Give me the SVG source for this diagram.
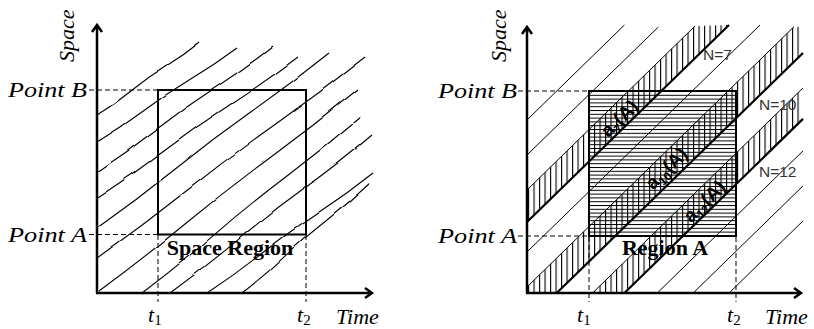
<svg xmlns="http://www.w3.org/2000/svg" width="814" height="329" viewBox="0 0 814 329">
<style>
.ax{fill:none;stroke:#000;stroke-width:2.5}
.box{fill:none;stroke:#000;stroke-width:2}
.dash{fill:none;stroke:#000;stroke-width:1;stroke-dasharray:5 3}
.wave{fill:none;stroke:#000;stroke-width:1.1}
.thin{stroke:#000;stroke-width:1}
.thick{stroke:#000;stroke-width:2.2}
.lbl{font-family:"Liberation Serif",serif;font-style:italic;font-size:22px;fill:#000}
.sub{font-family:"Liberation Serif",serif;font-size:15px;font-style:normal}
.reg{font-family:"Liberation Serif",serif;font-weight:bold;font-size:22px;fill:#000}
.n{font-family:"Liberation Sans",sans-serif;font-size:15.5px;fill:#333}
.a{font-family:"Liberation Sans",sans-serif;font-weight:bold;font-size:19px;fill:#000}
</style>
<defs>
<pattern id="vh" patternUnits="userSpaceOnUse" x="0" y="0" width="5.5" height="10"><rect x="0" y="0" width="1.1" height="10" fill="#000"/></pattern>
<pattern id="hh" patternUnits="userSpaceOnUse" x="0" y="91" width="10" height="3.8"><rect x="0" y="0" width="10" height="1" fill="#000"/></pattern>
<filter id="wob" filterUnits="userSpaceOnUse" x="0" y="0" width="814" height="329">
  <feTurbulence type="fractalNoise" baseFrequency="0.035" numOctaves="1" seed="5" result="n"/>
  <feDisplacementMap in="SourceGraphic" in2="n" scale="3" xChannelSelector="R" yChannelSelector="G"/>
</filter>
</defs>

<g id="left-panel">
  <g id="left-trajectories" filter="url(#wob)">
    <path class="wave" d="M97,115 Q115.1,104 131.3,90.7 T165.7,66.3 T200,42"/>
    <path class="wave" d="M97,142 Q121.1,127.6 143.7,110.7 T190.3,79.3 T237,48"/>
    <path class="wave" d="M97,172 Q127.1,152.4 155.3,130.3 T213.7,88.7 T272,47"/>
    <path class="wave" d="M97,198 Q131.4,175.7 164,151 T231,104 T298,57"/>
    <path class="wave" d="M97,228 Q136.6,200 174.3,169.7 T251.7,111.3 T329,53"/>
    <path class="wave" d="M97,258 Q142.6,225.7 186.3,191 T275.7,124 T365,57"/>
    <path class="wave" d="M99,291 Q142.9,258.7 185,224 T271,157 T357,90"/>
    <path class="wave" d="M142,293 Q179.2,264.9 214.7,234.3 T287.3,175.7 T360,117"/>
    <path class="wave" d="M170,293 Q204.6,267.9 237.3,240.3 T304.7,187.7 T372,135"/>
    <path class="wave" d="M207,293 Q235.6,274.2 262.3,253 T317.7,213 T373,173"/>
    <path class="wave" d="M242,293 Q264.3,275.8 284.7,256.3 T327.3,219.7 T370,183"/>
  </g>
  <g id="left-guides">
    <path class="dash" d="M89,90 H158 M89,234.5 H158 M158,235 V302 M306,235 V302"/>
  </g>
  <g id="left-region">
    <rect class="box" x="158" y="90" width="148" height="144.5"/>
    <text class="reg" x="230" y="255" text-anchor="middle">Space Region</text>
  </g>
  <g id="left-axes">
    <path class="ax" d="M97,293 V25 M92,32 L97,25 L102,32"/>
    <path class="ax" d="M96,293 H372 M365,288 L372,293 L365,298"/>
    <text class="lbl" transform="translate(74,62) rotate(-90)">Space</text>
    <text class="lbl" x="8" y="97" textLength="79" lengthAdjust="spacingAndGlyphs">Point B</text>
    <text class="lbl" x="8" y="242" textLength="79" lengthAdjust="spacingAndGlyphs">Point A</text>
    <text class="lbl" x="148" y="322">t<tspan class="sub" dy="3">1</tspan></text>
    <text class="lbl" x="297" y="322">t<tspan class="sub" dy="3">2</tspan></text>
    <text class="lbl" x="336" y="324" font-size="21">Time</text>
  </g>
</g>

<g id="right-panel">
  <g id="right-hatching">
    <rect x="589" y="91" width="147" height="145" fill="url(#hh)"/>
    <polygon points="527,190 527,222 729,25 695,26" fill="url(#vh)"/>
    <polygon points="527,287 527,293 556.7,293 803,53 803,27 794,26.7" fill="url(#vh)"/>
    <polygon points="592.6,293 624.4,293 803,118.9 803,87.9" fill="url(#vh)"/>
  </g>
  <g id="right-trajectories">
    <line class="thin" x1="527" y1="120" x2="624.4" y2="25"/>
    <line class="thin" x1="527" y1="155" x2="658.3" y2="27"/>
    <line class="thin" x1="527" y1="190" x2="695" y2="26"/>
    <line class="thick" x1="527" y1="222" x2="729" y2="25"/>
    <line class="thin" x1="527" y1="252" x2="760" y2="25"/>
    <line class="thin" x1="527" y1="287" x2="794" y2="26.7"/>
    <line class="thick" x1="556.7" y1="293" x2="803" y2="53"/>
    <line class="thin" x1="592.6" y1="293" x2="803" y2="87.9"/>
    <line class="thick" x1="624.4" y1="293" x2="803" y2="118.9"/>
    <line class="thin" x1="657.3" y1="293" x2="803" y2="150.9"/>
    <line class="thin" x1="693.2" y1="293" x2="803" y2="185.9"/>
    <line class="thin" x1="729.1" y1="293" x2="803" y2="220.9"/>
  </g>
  <g id="right-guides">
    <path class="dash" d="M518,91 H589 M518,236 H589 M589,237 V302 M736,237 V302"/>
  </g>
  <g id="right-region">
    <rect class="box" x="589" y="91" width="147" height="145"/>
    <text class="reg" x="665" y="255" text-anchor="middle">Region A</text>
  </g>
  <g id="band-labels">
    <text class="a" transform="translate(619,118) rotate(-44.3)" x="0" y="7" text-anchor="middle">a<tspan font-size="12" dy="4">7</tspan><tspan dy="-4">(A)</tspan></text>
    <text class="a" transform="translate(666,168) rotate(-44.3)" x="0" y="7" text-anchor="middle">a<tspan font-size="12" dy="4">10</tspan><tspan dy="-4">(A)</tspan></text>
    <text class="a" transform="translate(704,201) rotate(-44.3)" x="0" y="7" text-anchor="middle">a<tspan font-size="12" dy="4">12</tspan><tspan dy="-4">(A)</tspan></text>
    <text class="n" x="703" y="60">N=7</text>
    <text class="n" x="759" y="110">N=10</text>
    <text class="n" x="759" y="177">N=12</text>
  </g>
  <g id="right-axes">
    <path class="ax" d="M527,293 V27 M522,34 L527,27 L532,34"/>
    <path class="ax" d="M526,293 H801 M794,288 L801,293 L794,298"/>
    <text class="lbl" transform="translate(506,62) rotate(-90)">Space</text>
    <text class="lbl" x="438" y="98" textLength="79" lengthAdjust="spacingAndGlyphs">Point B</text>
    <text class="lbl" x="438" y="243" textLength="79" lengthAdjust="spacingAndGlyphs">Point A</text>
    <text class="lbl" x="577" y="322">t<tspan class="sub" dy="3">1</tspan></text>
    <text class="lbl" x="727" y="322">t<tspan class="sub" dy="3">2</tspan></text>
    <text class="lbl" x="765" y="324" font-size="21">Time</text>
  </g>
</g>
</svg>
